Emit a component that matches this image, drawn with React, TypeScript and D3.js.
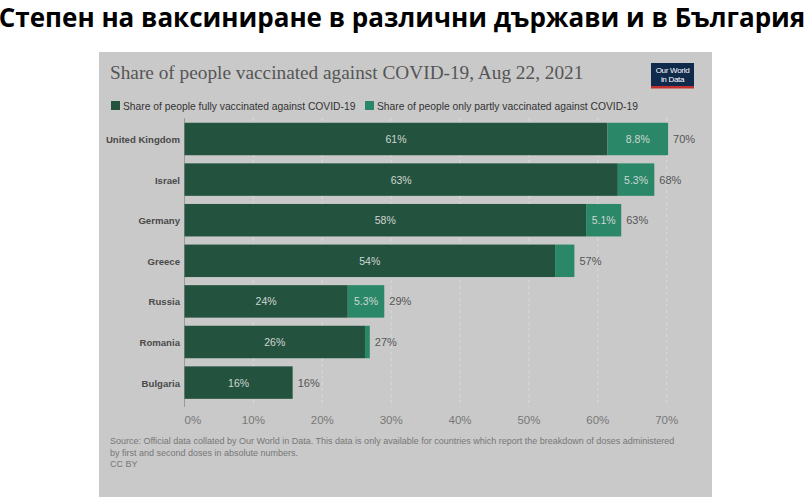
import React from "react";
import * as d3 from "d3";

// values (% of population)
const countries = ["United Kingdom", "Israel", "Germany", "Greece", "Russia", "Romania", "Bulgaria"];
const fullyVaccinated = [61.4, 62.9, 58.3, 53.8, 23.7, 26.2, 15.7];
const partlyVaccinated = [8.8, 5.3, 5.1, 2.8, 5.3, 0.7, 0];
const fullyLabels = ["61%", "63%", "58%", "54%", "24%", "26%", "16%"];
const partlyLabels = ["8.8%", "5.3%", "5.1%", "", "5.3%", "", ""];
const totalLabels = ["70%", "68%", "63%", "57%", "29%", "27%", "16%"];
const xTicks = [0, 10, 20, 30, 40, 50, 60, 70];

const pageTitle = "Степен на ваксиниране в различни държави и в България";
const chartTitle = "Share of people vaccinated against COVID-19, Aug 22, 2021";
const legendLabels = [
  "Share of people fully vaccinated against COVID-19",
  "Share of people only partly vaccinated against COVID-19",
];
const sourceLines = [
  "Source: Official data collated by Our World in Data. This data is only available for countries which report the breakdown of doses administered",
  "by first and second doses in absolute numbers.",
  "CC BY",
];

const DARK = "#23533f";
const LIGHT = "#2a8869";
const BG = "#c9c9c9";
const SANS = "'Liberation Sans', Arial, sans-serif";

export default function App() {
  const x = d3.scaleLinear().domain([0, 70]).range([184.5, 666.7]);
  const y = d3
    .scaleBand<string>()
    .domain(countries)
    .range([118.7, 402.9])
    .paddingInner(0.2)
    .paddingOuter(0.1);
  const bw = y.bandwidth();

  return (
    <svg
      width={805}
      height={501}
      style={{ position: "absolute", left: 0, top: 0, background: "#fff" }}
    >
      <text
        x={402}
        y={27}
        textAnchor="middle"
        fontFamily="'Open Sans', sans-serif"
        fontWeight={700}
        fontSize={26}
        fill="#000"
      >
        {pageTitle}
      </text>

      <rect x={99} y={52} width={613} height={445} fill={BG} />

      <text x={110} y={78.5} fontFamily="'Liberation Serif', serif" fontSize={19.3} fill="#555">
        {chartTitle}
      </text>

      {/* logo */}
      <rect x={651} y={63} width={43} height={24} fill="#102a4c" />
      <rect x={651} y={86} width={43} height={2.5} fill="#c0302f" />
      <text x={672.5} y={73} textAnchor="middle" fontFamily={SANS} fontSize={8} fill="#fff" letterSpacing={-0.3}>
        Our World
      </text>
      <text x={672.5} y={82} textAnchor="middle" fontFamily={SANS} fontSize={8} fill="#fff" letterSpacing={-0.3}>
        in Data
      </text>

      {/* legend */}
      <rect x={111} y={101} width={9} height={9} fill={DARK} />
      <text x={123} y={109.5} fontFamily={SANS} fontSize={10.3} fill="#333">
        {legendLabels[0]}
      </text>
      <rect x={365} y={101} width={9} height={9} fill={LIGHT} />
      <text x={377} y={109.5} fontFamily={SANS} fontSize={10.3} fill="#333">
        {legendLabels[1]}
      </text>

      {/* grid */}
      {xTicks.slice(1).map((t) => (
        <line
          key={t}
          x1={x(t)}
          x2={x(t)}
          y1={118}
          y2={407}
          stroke="#dadada"
          strokeDasharray="3,3"
        />
      ))}
      <line x1={x(0)} x2={x(0)} y1={118} y2={407} stroke="#9a9a9a" />

      {xTicks.map((t) => (
        <text
          key={t}
          x={x(t)}
          y={423.5}
          textAnchor={t === 0 ? "start" : "middle"}
          fontFamily={SANS}
          fontSize={11.5}
          fill="#777"
        >
          {t + "%"}
        </text>
      ))}

      {countries.map((c, i) => {
        const y0 = y(c) as number;
        const cy = y0 + bw / 2 + 4;
        const f = fullyVaccinated[i];
        const p = partlyVaccinated[i];
        return (
          <g key={c}>
            <text
              x={180}
              y={cy}
              textAnchor="end"
              fontFamily={SANS}
              fontWeight={700}
              fontSize={9.6}
              fill="#4a4a4a"
            >
              {c}
            </text>
            <rect x={x(0)} y={y0} width={x(f) - x(0)} height={bw} fill={DARK} />
            {p > 0 && (
              <rect x={x(f)} y={y0} width={x(f + p) - x(f)} height={bw} fill={LIGHT} />
            )}
            <text
              x={(x(0) + x(f)) / 2}
              y={cy}
              textAnchor="middle"
              fontFamily={SANS}
              fontSize={10.5}
              fill="#cfd6d2"
            >
              {fullyLabels[i]}
            </text>
            {partlyLabels[i] && (
              <text
                x={(x(f) + x(f + p)) / 2}
                y={cy}
                textAnchor="middle"
                fontFamily={SANS}
                fontSize={10.5}
                fill="#cfd6d2"
              >
                {partlyLabels[i]}
              </text>
            )}
            <text x={x(f + p) + 5} y={cy} fontFamily={SANS} fontSize={11} fill="#555">
              {totalLabels[i]}
            </text>
          </g>
        );
      })}

      {sourceLines.map((s, i) => (
        <text key={i} x={110} y={444 + i * 11.5} fontFamily={SANS} fontSize={9} fill="#777">
          {s}
        </text>
      ))}
    </svg>
  );
}
